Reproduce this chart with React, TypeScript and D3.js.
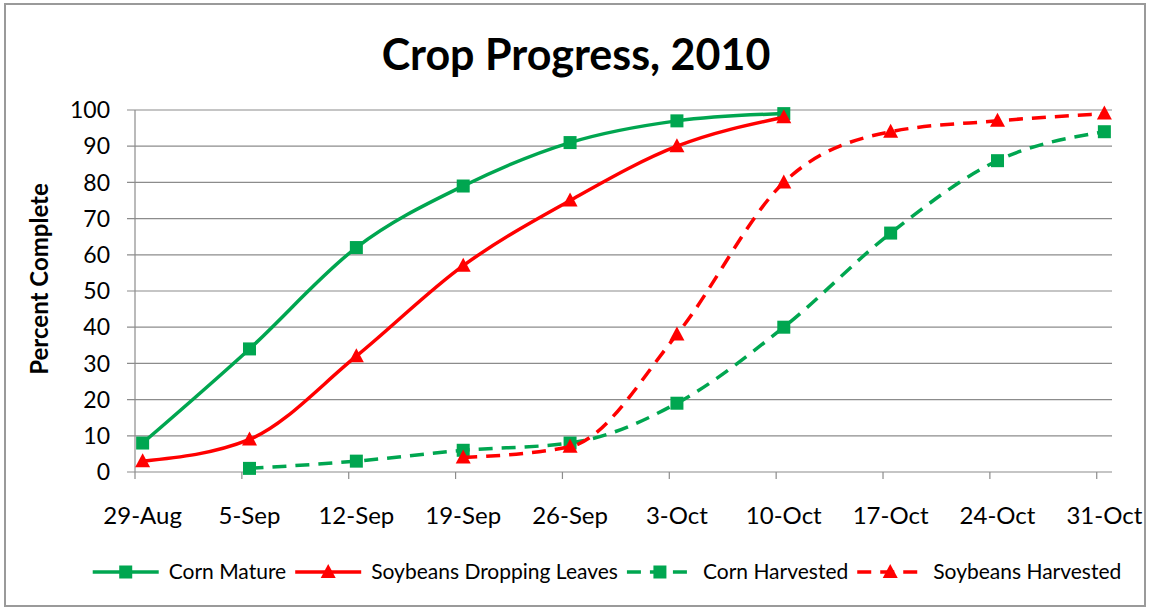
import { useEffect, useRef } from 'react';
import * as d3 from 'd3';

const weeks = ['2010-08-29', '2010-09-05', '2010-09-12', '2010-09-19', '2010-09-26', '2010-10-03', '2010-10-10', '2010-10-17', '2010-10-24', '2010-10-31'];
const weekLabels = ['29-Aug', '5-Sep', '12-Sep', '19-Sep', '26-Sep', '3-Oct', '10-Oct', '17-Oct', '24-Oct', '31-Oct'];

const cornMature = [8, 34, 62, 79, 91, 97, 99, null, null, null];
const soyDropping = [3, 9, 32, 57, 75, 90, 98, null, null, null];
const cornHarvested = [null, 1, 3, 6, 8, 19, 40, 66, 86, 94];
const soyHarvested = [null, null, null, 4, 7, 38, 80, 94, 97, 99];

const yTicks = [0, 10, 20, 30, 40, 50, 60, 70, 80, 90, 100];

interface Series {
  name: string;
  values: (number | null)[];
  color: string;
  marker: 'square' | 'triangle';
  dashed: boolean;
}

const GREEN = '#00A650';
const RED = '#FF0000';

const series: Series[] = [
  { name: 'Corn Mature', values: cornMature, color: GREEN, marker: 'square', dashed: false },
  { name: 'Soybeans Dropping Leaves', values: soyDropping, color: RED, marker: 'triangle', dashed: false },
  { name: 'Corn Harvested', values: cornHarvested, color: GREEN, marker: 'square', dashed: true },
  { name: 'Soybeans Harvested', values: soyHarvested, color: RED, marker: 'triangle', dashed: true },
];

const W = 1151;
const H = 611;
const FONT = 'Lato, "Open Sans", sans-serif';

export default function App() {
  const svgRef = useRef<SVGSVGElement>(null);

  useEffect(() => {
    if (!svgRef.current) return;
    const svg = d3.select(svgRef.current);
    svg.selectAll('*').remove();

    const plot = { left: 135, right: 1112, top: 110, bottom: 472 };
    const parse = d3.utcParse('%Y-%m-%d');
    const dates = weeks.map(d => parse(d) as Date);
    // axis runs one day past the last week
    const x = d3.scaleUtc()
      .domain([dates[0], d3.utcDay.offset(dates[dates.length - 1], 1)])
      .range([plot.left, plot.right]);
    // data points sit half a day to the right of the week ticks
    const px = (i: number) => x(d3.utcHour.offset(dates[i], 12));
    const y = d3.scaleLinear().domain([0, 100]).range([plot.bottom, plot.top]);

    // background + frame
    svg.append('rect')
      .attr('x', 5).attr('y', 4).attr('width', W - 11).attr('height', H - 9)
      .attr('fill', '#fff').attr('stroke', '#9a9a9a').attr('stroke-width', 2);

    // title
    svg.append('text')
      .attr('x', 576).attr('y', 70)
      .attr('text-anchor', 'middle')
      .attr('font-family', FONT).attr('font-weight', 700).attr('font-size', 43)
      .attr('fill', '#000')
      .text('Crop Progress, 2010');

    // horizontal grid
    const g = svg.append('g');
    g.selectAll('line.grid')
      .data(yTicks)
      .enter().append('line')
      .attr('x1', plot.left - 8).attr('x2', plot.right)
      .attr('y1', d => y(d)).attr('y2', d => y(d))
      .attr('stroke', '#8c8c8c').attr('stroke-width', 1.2);

    // y axis line
    g.append('line')
      .attr('x1', plot.left).attr('x2', plot.left)
      .attr('y1', plot.top).attr('y2', plot.bottom)
      .attr('stroke', '#8c8c8c').attr('stroke-width', 1.2);

    // x tick marks
    g.selectAll('line.xtick')
      .data(dates)
      .enter().append('line')
      .attr('x1', d => x(d)).attr('x2', d => x(d))
      .attr('y1', plot.bottom).attr('y2', plot.bottom + 7)
      .attr('stroke', '#8c8c8c').attr('stroke-width', 1.2);

    // y labels
    g.selectAll('text.ylab')
      .data(yTicks)
      .enter().append('text')
      .attr('x', plot.left - 25).attr('y', d => y(d))
      .attr('dy', '0.36em')
      .attr('text-anchor', 'end')
      .attr('font-family', FONT).attr('font-size', 23).attr('fill', '#000')
      .text(d => d);

    // x labels
    g.selectAll('text.xlab')
      .data(weekLabels)
      .enter().append('text')
      .attr('x', (_, i) => px(i)).attr('y', 524)
      .attr('text-anchor', 'middle')
      .attr('font-family', FONT).attr('font-size', 24).attr('fill', '#000')
      .text(d => d);

    // y title
    svg.append('text')
      .attr('transform', `translate(48,${(plot.top + plot.bottom) / 2 - 12}) rotate(-90)`)
      .attr('text-anchor', 'middle')
      .attr('font-family', FONT).attr('font-weight', 700).attr('font-size', 24)
      .text('Percent Complete');

    const drawMarker = (sel: d3.Selection<SVGGElement, unknown, null, undefined>, s: Series, cx: number, cy: number) => {
      if (s.marker === 'square') {
        sel.append('rect')
          .attr('x', cx - 6.5).attr('y', cy - 6.5).attr('width', 13).attr('height', 13)
          .attr('fill', s.color);
      } else {
        sel.append('path')
          .attr('d', `M${cx},${cy - 8}L${cx + 7.5},${cy + 6}L${cx - 7.5},${cy + 6}Z`)
          .attr('fill', s.color);
      }
    };

    const line = d3.line<[number, number]>()
      .x(d => d[0]).y(d => d[1])
      .curve(d3.curveMonotoneX);

    series.forEach(s => {
      const pts: [number, number][] = [];
      s.values.forEach((v, i) => {
        if (v !== null) pts.push([px(i), y(v)]);
      });
      const sg = svg.append('g');
      sg.append('path')
        .attr('d', line(pts))
        .attr('fill', 'none')
        .attr('stroke', s.color)
        .attr('stroke-width', 3.5)
        .attr('stroke-dasharray', s.dashed ? '14,9' : null);
      pts.forEach(p => drawMarker(sg as any, s, p[0], p[1]));
    });

    // legend
    const legY = 572;
    const legFont = 21;
    const lg = svg.append('g');
    const items: { s: Series; w: number }[] = [];
    const tmp = lg.append('text').attr('font-family', FONT).attr('font-size', legFont);
    series.forEach(s => {
      tmp.text(s.name);
      items.push({ s, w: (tmp.node() as SVGTextElement).getComputedTextLength() });
    });
    tmp.remove();
    const symW = 66;
    const gapSymText = 10;
    const gapItems = 9;
    const total = d3.sum(items, d => symW + gapSymText + d.w) + gapItems * (items.length - 1);
    let cur = 607 - total / 2;
    items.forEach(({ s, w }) => {
      const ig = lg.append('g');
      ig.append('line')
        .attr('x1', cur).attr('x2', cur + symW)
        .attr('y1', legY).attr('y2', legY)
        .attr('stroke', s.color).attr('stroke-width', 3.5)
        .attr('stroke-dasharray', s.dashed ? '14,9' : null);
      drawMarker(ig as any, s, cur + symW / 2, legY);
      ig.append('text')
        .attr('x', cur + symW + gapSymText).attr('y', legY)
        .attr('dy', '0.35em')
        .attr('font-family', FONT).attr('font-size', legFont).attr('fill', '#000')
        .text(s.name);
      cur += symW + gapSymText + w + gapItems;
    });
  }, []);

  return (
    <svg
      ref={svgRef}
      width={W}
      height={H}
      style={{ position: 'absolute', left: 0, top: 0, background: '#fff' }}
    />
  );
}
